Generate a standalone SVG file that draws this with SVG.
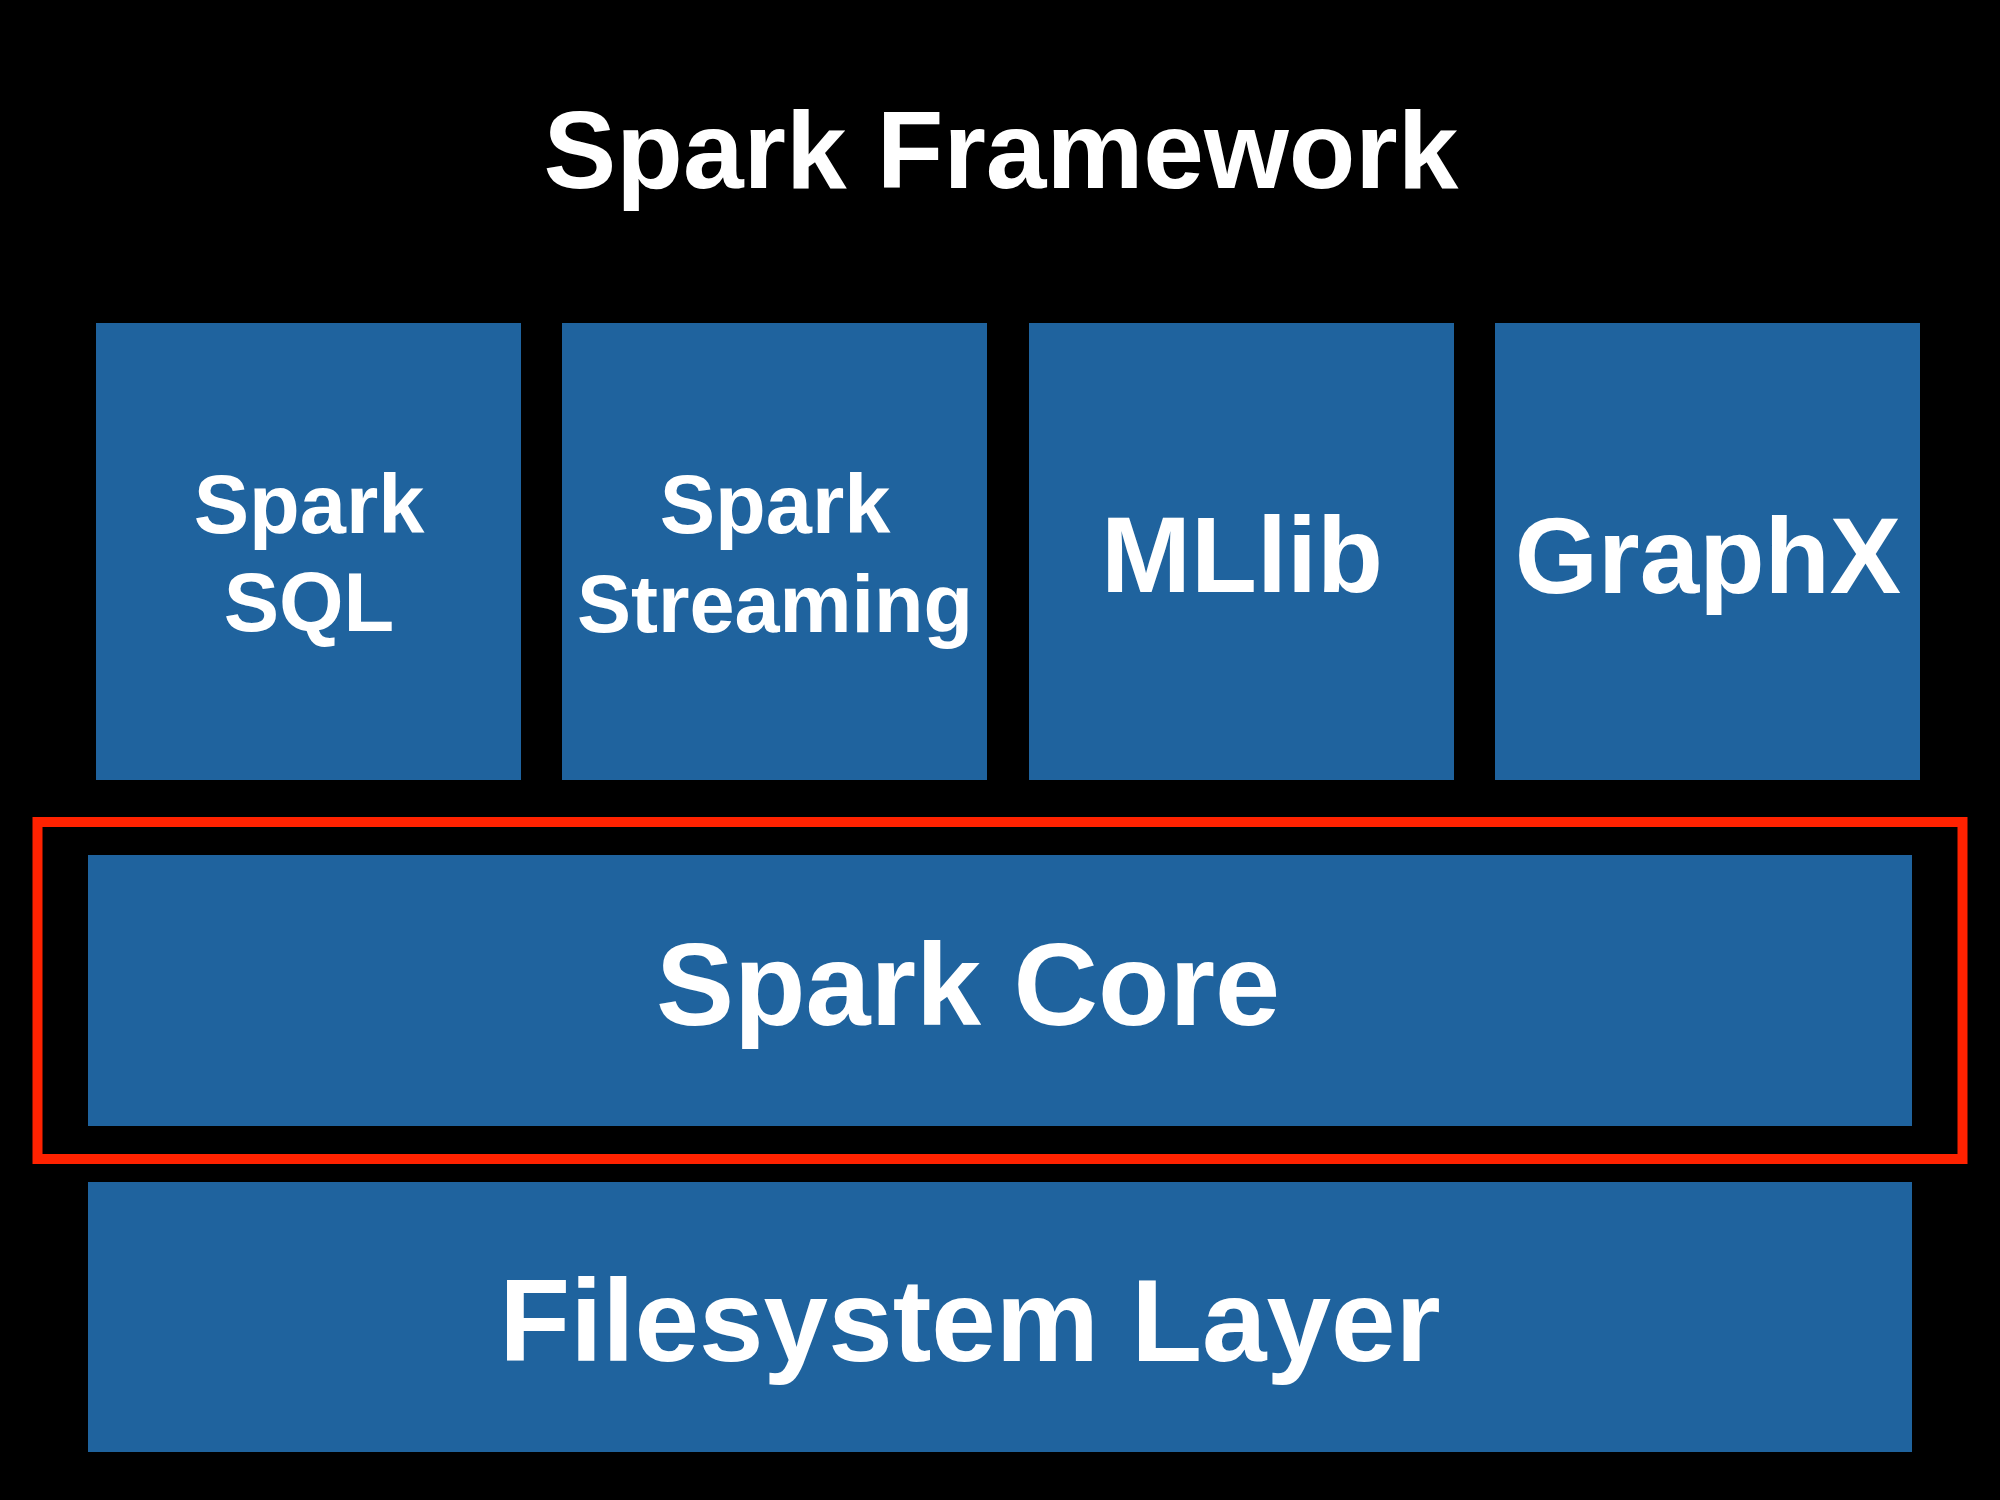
<svg xmlns="http://www.w3.org/2000/svg" width="2000" height="1500" viewBox="0 0 2000 1500">
<style>
.box{fill:#1f639e}
.lbl{fill:#ffffff;font-family:"Liberation Sans",Arial,Helvetica,sans-serif;font-weight:bold;text-anchor:middle}
</style>
<rect x="0" y="0" width="2000" height="1500" fill="#000000"/>
<text id="title" class="lbl" x="1001" y="188" font-size="109">Spark Framework</text>
<g id="spark-sql">
<rect class="box" x="96" y="323" width="425" height="457"/>
<text class="lbl" x="309" y="533" font-size="83">Spark</text>
<text class="lbl" x="309" y="631" font-size="83">SQL</text>
</g>
<g id="spark-streaming">
<rect class="box" x="562" y="323" width="425" height="457"/>
<text class="lbl" x="775" y="533" font-size="83">Spark</text>
<text class="lbl" x="775" y="632" font-size="81">Streaming</text>
</g>
<g id="mllib">
<rect class="box" x="1029" y="323" width="425" height="457"/>
<text class="lbl" x="1242" y="592" font-size="108">MLlib</text>
</g>
<g id="graphx">
<rect class="box" x="1495" y="323" width="425" height="457"/>
<text class="lbl" x="1708" y="593" font-size="107">GraphX</text>
</g>
<g id="spark-core">
<rect class="box" x="88" y="855" width="1824" height="271"/>
<text class="lbl" x="968" y="1025" font-size="117">Spark Core</text>
</g>
<g id="highlight">
<rect x="37.5" y="822" width="1925" height="337" fill="none" stroke="#ff2200" stroke-width="10"/>
</g>
<g id="filesystem-layer">
<rect class="box" x="88" y="1182" width="1824" height="270"/>
<text class="lbl" x="970" y="1361" font-size="116">Filesystem Layer</text>
</g>
<g id="connectors"></g>
</svg>
